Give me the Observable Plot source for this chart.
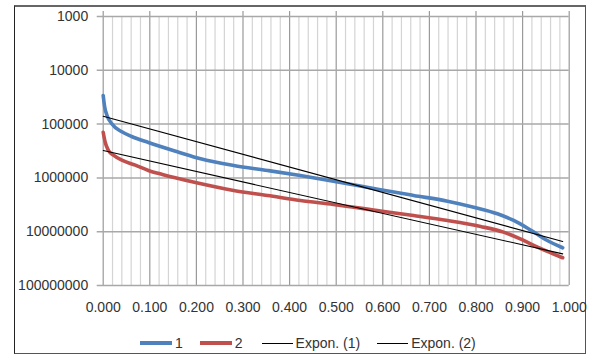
<!DOCTYPE html>
<html>
<head>
<meta charset="utf-8">
<script src="https://cdn.jsdelivr.net/npm/d3@7"></script>
<script src="https://cdn.jsdelivr.net/npm/@observablehq/plot@0.6"></script>
<style>
  html, body { margin: 0; padding: 0; background: #fff; }
  #wrap { position: relative; width: 592px; height: 356px; overflow: hidden; font-family: "Liberation Sans", Arial, sans-serif; }
  #frame { position: absolute; left: 14px; top: 5px; width: 570px; height: 346px;
           border-left: 1px solid #222; border-top: 2px solid #666; border-right: 1px solid #555; border-bottom: 1px solid #555; }
  #chart { position: absolute; left: 0; top: 0; }
  #legend { position: absolute; left: 140px; top: 335px; display: flex; align-items: center; font-size: 14px; color: #333; white-space: nowrap; }
  .sw { display: inline-block; width: 32px; margin-right: 3px; }
  .item { display: flex; align-items: center; margin-right: 17px; }
</style>
</head>
<body>
<div id="wrap">
  <div id="frame"></div>
  <div id="chart"></div>
  <div id="legend"></div>
</div>
<script>
// ---- data ----
const series1X = [0, 0.003, 0.008, 0.018, 0.040, 0.061, 0.097, 0.162, 0.209, 0.280, 0.353, 0.423, 0.494, 0.595, 0.666, 0.739, 0.795, 0.846, 0.881, 0.917, 0.953, 0.986];
const series1Y = [29400, 47100, 68300, 97500, 139000, 170000, 220000, 333000, 442000, 589000, 728000, 902000, 1150000, 1660000, 2120000, 2710000, 3510000, 4650000, 6190000, 9300000, 14600000, 19900000];
const series2X = [0, 0.004, 0.011, 0.022, 0.040, 0.069, 0.097, 0.127, 0.198, 0.280, 0.353, 0.423, 0.494, 0.595, 0.666, 0.739, 0.810, 0.859, 0.895, 0.932, 0.986];
const series2Y = [141500, 213000, 306000, 378000, 469000, 580000, 728000, 865000, 1220000, 1710000, 2120000, 2630000, 3120000, 4120000, 5000000, 6190000, 8000000, 10200000, 13600000, 19400000, 30500000];
// exponential trend lines: end points (straight on a log axis)
const trend1X = [0, 0.986];
const trend1Y = [71300, 15200000];
const trend2X = [0, 0.986];
const trend2Y = [310000, 25800000];
// axis ticks
const xMajorTicks = [0, 0.1, 0.2, 0.3, 0.4, 0.5, 0.6, 0.7, 0.8, 0.9, 1.0];
const xMinorTicks = [0.02,0.04,0.06,0.08,0.12,0.14,0.16,0.18,0.22,0.24,0.26,0.28,0.32,0.34,0.36,0.38,0.42,0.44,0.46,0.48,0.52,0.54,0.56,0.58,0.62,0.64,0.66,0.68,0.72,0.74,0.76,0.78,0.82,0.84,0.86,0.88,0.92,0.94,0.96,0.98];
const yTicks = [1000, 10000, 100000, 1000000, 10000000, 100000000];
const yTickLabels = ["1000", "10000", "100000", "1000000", "10000000", "100000000"];
const seriesNames = ["1", "2", "Expon. (1)", "Expon. (2)"];
const seriesColors = ["#4F81BD", "#C0504D", "#000000", "#000000"];

const s1 = series1X.map((x, i) => ({x, y: series1Y[i]}));
const s2 = series2X.map((x, i) => ({x, y: series2Y[i]}));
const t1 = trend1X.map((x, i) => ({x, y: trend1Y[i]}));
const t2 = trend2X.map((x, i) => ({x, y: trend2Y[i]}));

const chart = Plot.plot({
  width: 592,
  height: 320,
  marginLeft: 102.7,
  marginRight: 23.3,
  marginTop: 16,
  marginBottom: 35,
  style: {fontFamily: "Liberation Sans, Arial, sans-serif", fontSize: "14px", color: "#333", background: "transparent"},
  x: {domain: [0, 1]},
  y: {type: "log", domain: [1000, 100000000], reverse: true},
  marks: [
    Plot.ruleX(xMinorTicks, {stroke: "#d4d4d4", strokeWidth: 1.2}),
    Plot.ruleX(xMajorTicks, {stroke: "#9a9a9a", strokeWidth: 1.2, insetTop: -5}),
    Plot.ruleY(yTicks, {stroke: "#a8a8a8", strokeWidth: 1.5, insetLeft: -6}),
    Plot.axisX({ticks: xMajorTicks, tickFormat: d3.format(".3f"), tickSize: 0, tickPadding: 17, label: null, fontSize: 14}),
    Plot.axisY({ticks: yTicks, tickFormat: (d) => yTickLabels[yTicks.indexOf(d)], tickSize: 0, tickPadding: 15, label: null, fontSize: 14}),
    Plot.line(s1, {x: "x", y: "y", stroke: seriesColors[0], strokeWidth: 3.6, curve: "monotone-x"}),
    Plot.line(s2, {x: "x", y: "y", stroke: seriesColors[1], strokeWidth: 3.6, curve: "monotone-x"}),
    Plot.line(t1, {x: "x", y: "y", stroke: seriesColors[2], strokeWidth: 1.1}),
    Plot.line(t2, {x: "x", y: "y", stroke: seriesColors[3], strokeWidth: 1.1})
  ]
});
document.getElementById("chart").appendChild(chart);

const legend = document.getElementById("legend");
seriesNames.forEach((name, i) => {
  const item = document.createElement("div");
  item.className = "item";
  const sw = document.createElement("span");
  sw.className = "sw";
  const thick = i < 2;
  sw.style.height = thick ? "4px" : "1px";
  sw.style.background = seriesColors[i];
  if (!thick) sw.style.width = "31px";
  item.appendChild(sw);
  const t = document.createElement("span");
  t.textContent = name;
  item.appendChild(t);
  if (i === 1) item.style.marginRight = "19px";
  legend.appendChild(item);
});
</script>
</body>
</html>
